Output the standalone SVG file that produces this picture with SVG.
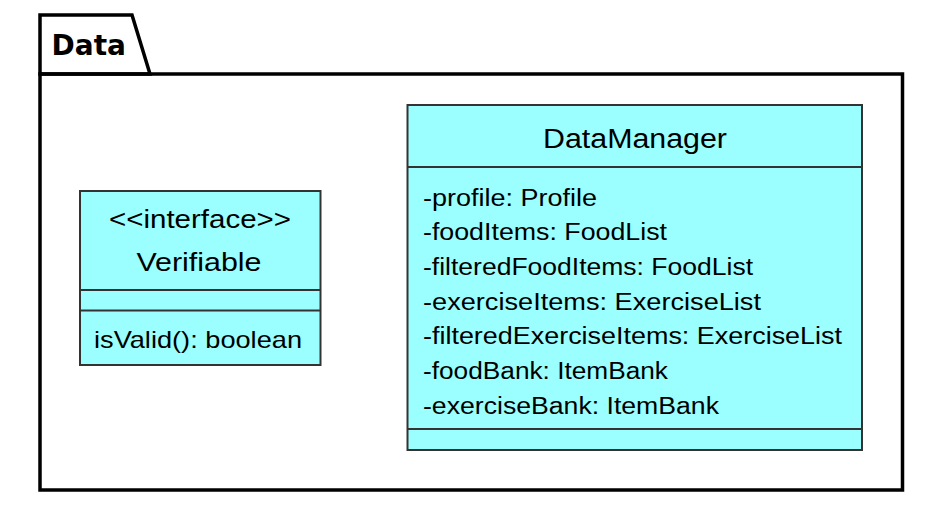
<svg xmlns="http://www.w3.org/2000/svg" width="942" height="505" viewBox="0 0 942 505">
<style>
.pkg{fill:none;stroke:#000;stroke-width:3.5}
.box{fill:#9BFFFF;stroke:#333;stroke-width:2}
.div{stroke:#333;stroke-width:2}
.t{font-family:"Liberation Sans",Arial,sans-serif;fill:#000}
.a{font-size:23px}
.pl{font-family:"DejaVu Sans",sans-serif;font-weight:bold;font-size:28px;fill:#000}
</style>
<rect width="942" height="505" fill="#fff"/>
<g id="package-Data">
<path class="pkg" d="M40,74 L40,15 L132,15 L150,74 Z"/>
<rect class="pkg" x="40" y="74" width="862.5" height="416"/>
<text class="pl" x="51.5" y="55">Data</text>
</g>
<g id="Verifiable">
<rect class="box" x="80" y="191" width="240.5" height="174"/>
<line class="div" x1="80" y1="290" x2="320.5" y2="290"/>
<line class="div" x1="80" y1="310.5" x2="320.5" y2="310.5"/>
<text class="t" x="200" y="228" font-size="25" text-anchor="middle" textLength="182" lengthAdjust="spacingAndGlyphs">&lt;&lt;interface&gt;&gt;</text>
<text class="t" x="199" y="271" font-size="26" text-anchor="middle" textLength="125" lengthAdjust="spacingAndGlyphs">Verifiable</text>
<text class="t" x="94" y="348" font-size="24" textLength="208" lengthAdjust="spacingAndGlyphs">isValid(): boolean</text>
</g>
<g id="DataManager">
<rect class="box" x="407.5" y="105" width="454.5" height="345"/>
<line class="div" x1="407.5" y1="167" x2="862" y2="167"/>
<line class="div" x1="407.5" y1="429" x2="862" y2="429"/>
<text class="t" x="635" y="147.7" font-size="27" text-anchor="middle" textLength="184" lengthAdjust="spacingAndGlyphs">DataManager</text>
<text class="t a" x="423" y="205.5" textLength="174" lengthAdjust="spacingAndGlyphs">-profile: Profile</text>
<text class="t a" x="423" y="240.2" textLength="244" lengthAdjust="spacingAndGlyphs">-foodItems: FoodList</text>
<text class="t a" x="423" y="274.9" textLength="330" lengthAdjust="spacingAndGlyphs">-filteredFoodItems: FoodList</text>
<text class="t a" x="423" y="309.6" textLength="338" lengthAdjust="spacingAndGlyphs">-exerciseItems: ExerciseList</text>
<text class="t a" x="423" y="344.3" textLength="419" lengthAdjust="spacingAndGlyphs">-filteredExerciseItems: ExerciseList</text>
<text class="t a" x="423" y="379" textLength="245" lengthAdjust="spacingAndGlyphs">-foodBank: ItemBank</text>
<text class="t a" x="423" y="413.7" textLength="296" lengthAdjust="spacingAndGlyphs">-exerciseBank: ItemBank</text>
</g>
<g id="connectors"></g>
</svg>
